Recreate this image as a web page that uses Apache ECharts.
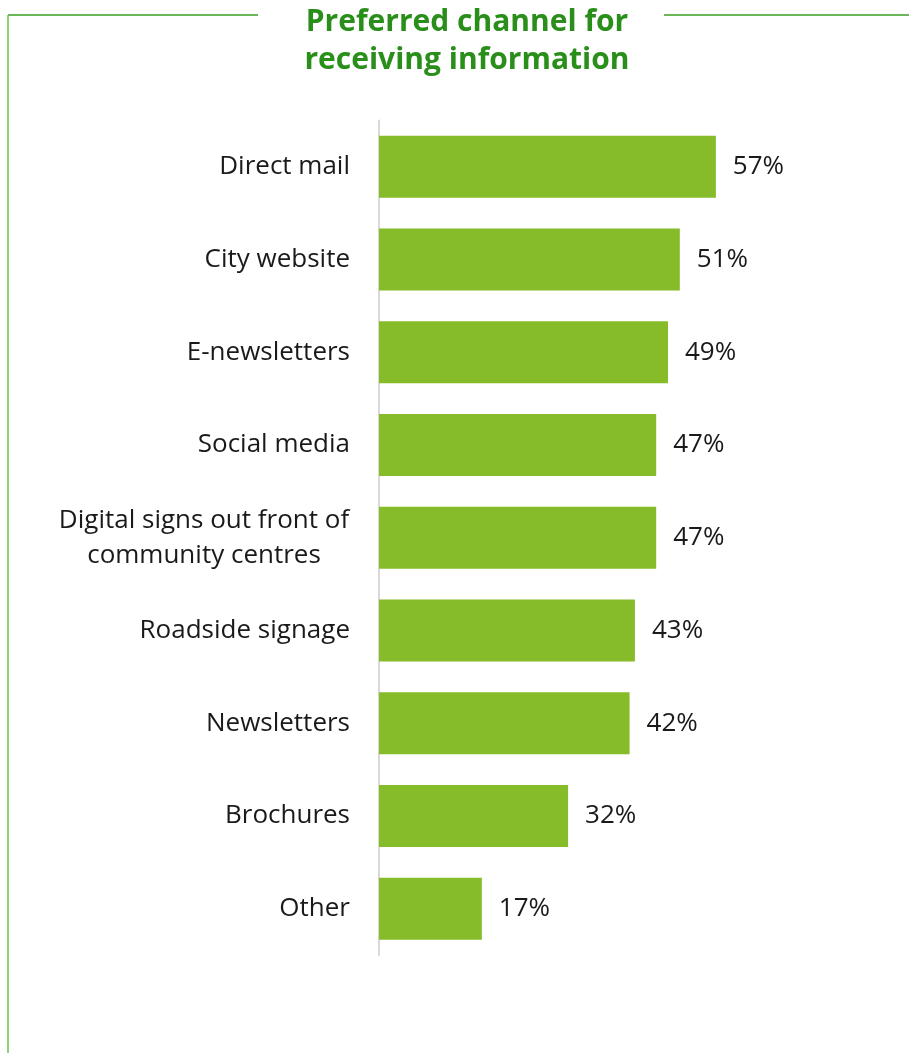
<!DOCTYPE html>
<html>
<head>
<meta charset="utf-8">
<script src="https://cdn.jsdelivr.net/npm/echarts@6/dist/echarts.min.js"></script>
<style>
html,body{margin:0;padding:0;background:#fff;}
#chart{width:909px;height:1053px;}
</style>
</head>
<body>
<div id="chart"></div>
<script>
const titleText = 'Preferred channel for\nreceiving information';
const categories = ['Direct mail','City website','E-newsletters','Social media','Digital signs out front of\ncommunity centres','Roadside signage','Newsletters','Brochures','Other'];
const values = [57.0,50.9,48.9,46.9,46.9,43.3,42.4,32.0,17.4];

const FONT = '"Open Sans", "Noto Sans", sans-serif';
const chart = echarts.init(document.getElementById('chart'));
chart.setOption({
  backgroundColor: '#ffffff',
  animation: false,
  title: {
    text: titleText,
    left: 462, top: -2, textAlign: 'center',
    textStyle: {color: '#2a8f1a', fontSize: 30, fontWeight: 'bold', fontFamily: FONT, lineHeight: 38}
  },
  graphic: [
    {type: 'line', shape: {x1: 8, y1: 15, x2: 258, y2: 15}, style: {stroke: '#3a9e1e', lineWidth: 1.5}},
    {type: 'line', shape: {x1: 664, y1: 15, x2: 909, y2: 15}, style: {stroke: '#3a9e1e', lineWidth: 1.5}},
    {type: 'line', shape: {x1: 8, y1: 15, x2: 8, y2: 1053}, style: {stroke: '#6cc04a', lineWidth: 1.5}}
  ],
  grid: {left: 379, top: 120.5, width: 591, height: 834.5, outerBoundsMode: 'none', containLabel: false},
  xAxis: {
    type: 'value', min: 0, max: 100, show: false
  },
  yAxis: {
    type: 'category', inverse: true, data: categories,
    axisLine: {show: true, lineStyle: {color: '#d9d9d9', width: 2}},
    axisTick: {show: false},
    axisLabel: {
      margin: 29, color: '#1a1a1a', fontSize: 26, fontFamily: FONT, lineHeight: 35,
      formatter: function (v) {
        if (v.indexOf('\n') >= 0) {
          return v.split('\n').map(s => '{m|' + s + '}').join('\n');
        }
        return v;
      },
      rich: {m: {width: 292, align: 'center', fontSize: 26, fontFamily: FONT, color: '#1a1a1a', lineHeight: 35}}
    }
  },
  series: [{
    type: 'bar', data: values, barWidth: 62,
    itemStyle: {color: '#86bc29'},
    label: {show: true, position: 'right', distance: 17,
      formatter: p => Math.round(p.value) + '%',
      color: '#1a1a1a', fontSize: 26, fontFamily: FONT}
  }]
});
</script>
</body>
</html>
